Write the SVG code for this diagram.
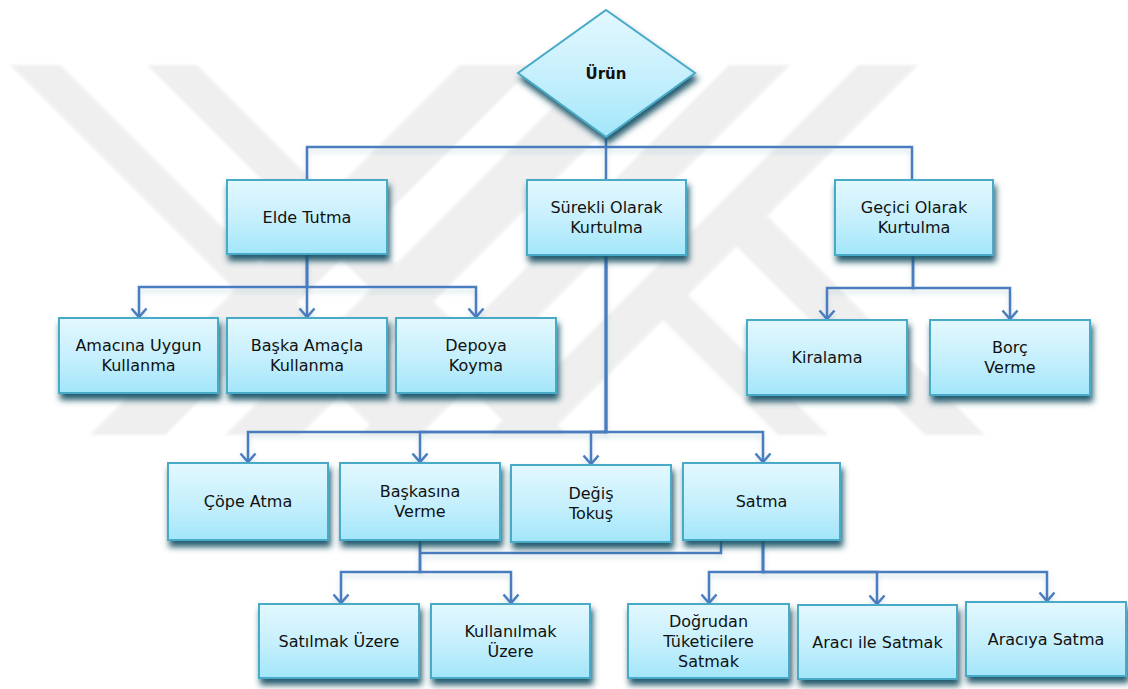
<svg xmlns="http://www.w3.org/2000/svg" width="1128" height="689" viewBox="0 0 1128 689">
<defs>
<linearGradient id="boxg" x1="0" y1="0" x2="0" y2="1">
<stop offset="0" stop-color="#e3f8fe"/>
<stop offset="0.55" stop-color="#c4effc"/>
<stop offset="1" stop-color="#a2e6fa"/>
</linearGradient>
<filter id="bshadow" x="-10%" y="-10%" width="120%" height="140%">
<feGaussianBlur in="SourceAlpha" stdDeviation="3"/>
<feOffset dx="1.5" dy="6" result="b"/>
<feFlood flood-color="#1a5366" flood-opacity="0.95"/>
<feComposite in2="b" operator="in" result="s"/>
<feMerge><feMergeNode in="s"/><feMergeNode in="SourceGraphic"/></feMerge>
</filter>
<filter id="cshadow" x="-5%" y="-20%" width="110%" height="140%">
<feGaussianBlur in="SourceAlpha" stdDeviation="2.5"/>
<feOffset dx="0" dy="4" result="b"/>
<feFlood flood-color="#7fa7b8" flood-opacity="0.35"/>
<feComposite in2="b" operator="in" result="s"/>
<feMerge><feMergeNode in="s"/><feMergeNode in="SourceGraphic"/></feMerge>
</filter>
<filter id="soft" x="-5%" y="-5%" width="110%" height="110%">
<feGaussianBlur stdDeviation="1.5"/>
</filter>
<marker id="arr" markerUnits="userSpaceOnUse" markerWidth="20" markerHeight="20" viewBox="-12 -10 14 20" refX="0" refY="0" orient="auto">
<path d="M-8.5,-7.5 L0,0 L-8.5,7.5" fill="none" stroke="#4a7dbf" stroke-width="2.5" stroke-linejoin="miter"/>
</marker>
</defs>
<style>
.box{fill:url(#boxg);stroke:#48aac7;stroke-width:2;filter:url(#bshadow)}
.lbl{font-family:"DejaVu Sans","Verdana",sans-serif;font-size:16px;fill:#111111;text-anchor:middle}
.bold{font-weight:bold;font-size:15px}
.con{fill:none;stroke:#4a7dbf;stroke-width:2.5}
.arrow{marker-end:url(#arr)}
.wm{fill:#efefef}
</style>
<rect width="1128" height="689" fill="#ffffff"/>
<g id="watermark" filter="url(#soft)">
<polygon class="wm" points="10,65 60,65 430,435 380,435"/>
<polygon class="wm" points="147,65 197,65 567,435 517,435"/>
<polygon class="wm" points="90,435 165,435 535,65 460,65"/>
<polygon class="wm" points="225,435 300,435 670,65 595,65"/>
<polygon class="wm" points="729,65 790,65 420,435 359,435"/>
<polygon class="wm" points="858,65 918,65 548,435 488,435"/>
<polygon class="wm" points="688,295 828,435 778,435 663,320"/>
<polygon class="wm" points="767,216 985,435 925,435 736,246"/>
</g>
<g id="connectors" filter="url(#cshadow)">
<path class="con" d="M606,137 V180"/>
<path class="con" d="M307,180 V147 H912 V180"/>
<path class="con arrow" d="M307,254 V287 H139 V317"/>
<path class="con arrow" d="M307,254 V317"/>
<path class="con arrow" d="M307,254 V287 H476 V317"/>
<path class="con arrow" d="M913,255 V288 H827 V319"/>
<path class="con arrow" d="M913,255 V288 H1010 V319"/>
<path class="con arrow" d="M606,255 V432 H248 V462"/>
<path class="con arrow" d="M606,255 V432 H420 V462"/>
<path class="con arrow" d="M606,255 V432 H591 V464"/>
<path class="con arrow" d="M606,255 V432 H763 V462"/>
<path class="con arrow" d="M420,540 V572 H341 V603"/>
<path class="con arrow" d="M420,540 V572 H511 V603"/>
<path class="con" d="M721,540 V553 H420"/>
<path class="con arrow" d="M763,540 V572 H709 V603"/>
<path class="con arrow" d="M763,540 V572 H877 V604"/>
<path class="con arrow" d="M763,540 V572 H1047 V601"/>
</g>
<g id="n-urun">
<polygon class="box" points="606,10 695,73 606,137 518,73"/>
<text class="lbl bold" x="606" y="78.5">Ürün</text>
</g>
<g id="n-elde">
<rect class="box" x="227" y="180" width="160" height="74"/>
<text class="lbl" x="307" y="222.8">Elde Tutma</text>
</g>
<g id="n-surekli">
<rect class="box" x="527" y="180" width="159" height="75"/>
<text class="lbl" x="606.5" y="212.8">Sürekli Olarak</text>
<text class="lbl" x="606.5" y="232.8">Kurtulma</text>
</g>
<g id="n-gecici">
<rect class="box" x="835" y="180" width="158" height="75"/>
<text class="lbl" x="914" y="212.8">Geçici Olarak</text>
<text class="lbl" x="914" y="232.8">Kurtulma</text>
</g>
<g id="n-amacina">
<rect class="box" x="59" y="318" width="159" height="75"/>
<text class="lbl" x="138.5" y="350.8">Amacına Uygun</text>
<text class="lbl" x="138.5" y="370.8">Kullanma</text>
</g>
<g id="n-baska">
<rect class="box" x="227" y="318" width="160" height="75"/>
<text class="lbl" x="307" y="350.8">Başka Amaçla</text>
<text class="lbl" x="307" y="370.8">Kullanma</text>
</g>
<g id="n-depoya">
<rect class="box" x="396" y="318" width="160" height="75"/>
<text class="lbl" x="476" y="350.8">Depoya</text>
<text class="lbl" x="476" y="370.8">Koyma</text>
</g>
<g id="n-kiralama">
<rect class="box" x="747" y="320" width="160" height="75"/>
<text class="lbl" x="827" y="363.3">Kiralama</text>
</g>
<g id="n-borc">
<rect class="box" x="930" y="320" width="160" height="75"/>
<text class="lbl" x="1010" y="352.8">Borç</text>
<text class="lbl" x="1010" y="372.8">Verme</text>
</g>
<g id="n-cope">
<rect class="box" x="168" y="463" width="160" height="77"/>
<text class="lbl" x="248" y="507.3">Çöpe Atma</text>
</g>
<g id="n-baskasina">
<rect class="box" x="340" y="463" width="160" height="77"/>
<text class="lbl" x="420" y="496.8">Başkasına</text>
<text class="lbl" x="420" y="516.8">Verme</text>
</g>
<g id="n-degis">
<rect class="box" x="511" y="465" width="160" height="77"/>
<text class="lbl" x="591" y="498.8">Değiş</text>
<text class="lbl" x="591" y="518.8">Tokuş</text>
</g>
<g id="n-satma">
<rect class="box" x="683" y="463" width="157" height="77"/>
<text class="lbl" x="761.5" y="507.3">Satma</text>
</g>
<g id="n-satilmak">
<rect class="box" x="259" y="604" width="160" height="74"/>
<text class="lbl" x="339" y="646.8">Satılmak Üzere</text>
</g>
<g id="n-kullanilmak">
<rect class="box" x="431" y="604" width="159" height="74"/>
<text class="lbl" x="510.5" y="636.8">Kullanılmak</text>
<text class="lbl" x="510.5" y="656.8">Üzere</text>
</g>
<g id="n-dogrudan">
<rect class="box" x="628" y="604" width="161" height="74"/>
<text class="lbl" x="708.5" y="627">Doğrudan</text>
<text class="lbl" x="708.5" y="647">Tüketicilere</text>
<text class="lbl" x="708.5" y="667">Satmak</text>
</g>
<g id="n-araci">
<rect class="box" x="798" y="605" width="159" height="74"/>
<text class="lbl" x="877.5" y="647.8">Aracı ile Satmak</text>
</g>
<g id="n-araciya">
<rect class="box" x="966" y="602" width="160" height="74"/>
<text class="lbl" x="1046" y="644.8">Aracıya Satma</text>
</g>
</svg>
